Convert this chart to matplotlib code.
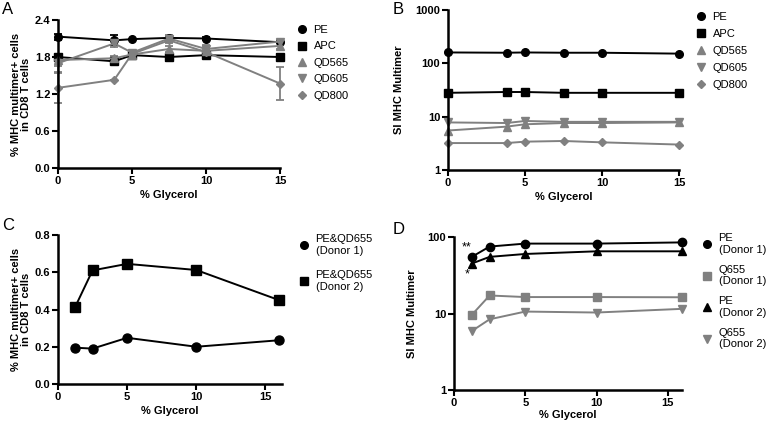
import matplotlib
matplotlib.use("Agg")
import matplotlib.pyplot as plt
from matplotlib.lines import Line2D
from matplotlib.ticker import FixedLocator, NullLocator, FixedFormatter

plt.rcParams['font.family'] = ['Liberation Sans', 'DejaVu Sans']

# ---- Data ----
# Panel A
a_x = [0, 3.8, 5, 7.5, 10, 15]
a_pe = [2.13, 2.07, 2.09, 2.11, 2.10, 2.04]
a_pe_err = [0.05, 0.08, 0.0, 0.03, 0.03, 0.0]
a_apc = [1.80, 1.73, 1.83, 1.80, 1.83, 1.80]
a_apc_err = [0.05, 0.04, 0.0, 0.07, 0.05, 0.05]
a_qd565 = [1.75, 1.78, 1.84, 1.93, 1.90, 1.98]
a_qd565_err = [0.1, 0.03, 0.03, 0.05, 0.1, 0.05]
a_qd605 = [1.70, 2.02, 1.87, 2.10, 1.93, 2.05]
a_qd605_err = [0.15, 0.05, 0.04, 0.05, 0.05, 0.03]
a_qd800 = [1.30, 1.43, 1.85, 2.07, 1.88, 1.37]
a_qd800_err = [0.24, 0.0, 0.03, 0.04, 0.05, 0.26]

# Panel B
b_x = [0, 3.8, 5, 7.5, 10, 15]
b_pe = [160, 158, 160, 158, 158, 152]
b_apc = [28, 29, 29, 28, 28, 28]
b_qd565 = [5.5, 6.5, 7.2, 7.6, 7.6, 7.8]
b_qd605 = [7.8, 7.6, 8.3, 8.0, 8.0, 8.0]
b_qd800 = [3.2, 3.2, 3.4, 3.5, 3.3, 3.0]

# Panel C
c_x = [1.25, 2.5, 5, 10, 16]
c_donor1 = [0.195, 0.19, 0.248, 0.20, 0.235]
c_donor2 = [0.415, 0.61, 0.645, 0.612, 0.45]

# Panel D
d_x = [1.25, 2.5, 5, 10, 16]
d_pe_d1 = [55, 75, 82, 82, 85]
d_q655_d1 = [9.6, 17.2, 16.4, 16.4, 16.3]
d_pe_d2 = [45, 55, 60, 65, 65]
d_q655_d2 = [5.9, 8.4, 10.6, 10.3, 11.5]

BLACK = '#000000'
GRAY = '#808080'
W, H = 774, 423

fig = plt.figure(figsize=(W / 100, H / 100), dpi=100)


def box(l, t, r, b):
    return [l / W, 1 - b / H, (r - l) / W, (b - t) / H]


def style(ax):
    for s in ['top', 'right']:
        ax.spines[s].set_visible(False)
    for s in ['left', 'bottom']:
        ax.spines[s].set_linewidth(1.8)
    ax.tick_params(axis='both', direction='out', length=4, width=1.5,
                   labelsize=8, pad=1.5)
    for lab in ax.get_xticklabels() + ax.get_yticklabels():
        lab.set_fontweight('bold')


def log_axis(ax, ticks):
    ax.set_yscale('log')
    ax.yaxis.set_major_locator(FixedLocator(ticks))
    ax.yaxis.set_minor_locator(NullLocator())
    ax.yaxis.set_major_formatter(FixedFormatter([str(t) for t in ticks]))


def add_legend(ax, entries, x, y, spacing):
    handles = [Line2D([], [], color=c, marker=m, linestyle='none', markersize=ms)
               for (_, c, m, ms) in entries]
    labels = [e[0] for e in entries]
    ax.legend(handles, labels, loc='upper left',
              bbox_to_anchor=(x / W, 1 - y / H), bbox_transform=fig.transFigure,
              frameon=False, fontsize=8, handlelength=0.8, handletextpad=0.6,
              labelspacing=spacing, borderaxespad=0, borderpad=0)


lw = 1.4
ms = 5.5
yl_pct = '% MHC multimer+ cells\nin CD8 T cells'

# ---- Panel A ----
axA = fig.add_axes(box(58, 20, 280, 168))
seriesA = [
    (a_pe, a_pe_err, BLACK, 'o', 'PE'),
    (a_apc, a_apc_err, BLACK, 's', 'APC'),
    (a_qd565, a_qd565_err, GRAY, '^', 'QD565'),
    (a_qd605, a_qd605_err, GRAY, 'v', 'QD605'),
    (a_qd800, a_qd800_err, GRAY, 'D', 'QD800'),
]
for y, e, c, m, lab in seriesA:
    axA.errorbar(a_x, y, yerr=e, color=c, marker=m, markersize=ms if m != 'D' else 4.5,
                 linewidth=lw, elinewidth=1.3, capsize=3, capthick=1.3, clip_on=False)
axA.set_xlim(0, 15)
axA.set_ylim(0, 2.4)
axA.set_xticks([0, 5, 10, 15])
axA.set_yticks([0.0, 0.6, 1.2, 1.8, 2.4])
axA.set_yticklabels(['0.0', '0.6', '1.2', '1.8', '2.4'])
axA.set_xlabel('% Glycerol', fontsize=8, fontweight='bold', labelpad=3)
axA.set_ylabel(yl_pct, fontsize=8, fontweight='bold', labelpad=3, linespacing=1.0)
style(axA)
add_legend(axA, [(s[4], s[2], s[3], 5.5 if s[3] != 'D' else 4.5) for s in seriesA],
           298, 25, 0.58)
fig.text(2 / W, 1 - 2 / H, 'A', fontsize=12, va='top', ha='left')

# ---- Panel B ----
axB = fig.add_axes(box(448, 10, 679, 170))
seriesB = [
    (b_pe, BLACK, 'o', 'PE'),
    (b_apc, BLACK, 's', 'APC'),
    (b_qd565, GRAY, '^', 'QD565'),
    (b_qd605, GRAY, 'v', 'QD605'),
    (b_qd800, GRAY, 'D', 'QD800'),
]
for y, c, m, lab in seriesB:
    axB.plot(b_x, y, color=c, marker=m, markersize=ms if m != 'D' else 4.5,
             linewidth=lw, clip_on=False)
axB.set_xlim(0, 15)
axB.set_ylim(1, 1000)
log_axis(axB, [1, 10, 100, 1000])
axB.set_xticks([0, 5, 10, 15])
axB.set_xlabel('% Glycerol', fontsize=8, fontweight='bold', labelpad=3)
axB.set_ylabel('SI MHC Multimer', fontsize=8, fontweight='bold', labelpad=8)
style(axB)
add_legend(axB, [(s[3], s[1], s[2], 5.5 if s[2] != 'D' else 4.5) for s in seriesB],
           697, 12, 0.62)
fig.text(393 / W, 1 - 2 / H, 'B', fontsize=12, va='top', ha='left')

# ---- Panel C ----
axC = fig.add_axes(box(58, 235, 282, 384))
axC.plot(c_x, c_donor1, color=BLACK, marker='o', markersize=6.5, linewidth=lw,
         clip_on=False)
axC.plot(c_x, c_donor2, color=BLACK, marker='s', markersize=6.5, linewidth=lw,
         clip_on=False)
axC.set_xlim(0, 16.2)
axC.set_ylim(0, 0.8)
axC.set_xticks([0, 5, 10, 15])
axC.set_yticks([0.0, 0.2, 0.4, 0.6, 0.8])
axC.set_yticklabels(['0.0', '0.2', '0.4', '0.6', '0.8'])
axC.set_xlabel('% Glycerol', fontsize=8, fontweight='bold', labelpad=3)
axC.set_ylabel(yl_pct, fontsize=8, fontweight='bold', labelpad=3, linespacing=1.0)
style(axC)
add_legend(axC, [('PE&QD655\n(Donor 1)', BLACK, 'o', 5.5),
                 ('PE&QD655\n(Donor 2)', BLACK, 's', 5.5)], 300, 234, 1.3)
fig.text(2 / W, 1 - 218 / H, 'C', fontsize=12, va='top', ha='left')

# ---- Panel D ----
axD = fig.add_axes(box(454, 237, 682, 390))
seriesD = [
    (d_pe_d1, BLACK, 'o', 'PE\n(Donor 1)'),
    (d_q655_d1, GRAY, 's', 'Q655\n(Donor 1)'),
    (d_pe_d2, BLACK, '^', 'PE\n(Donor 2)'),
    (d_q655_d2, GRAY, 'v', 'Q655\n(Donor 2)'),
]
for y, c, m, lab in seriesD:
    axD.plot(d_x, y, color=c, marker=m, markersize=6, linewidth=lw, clip_on=False)
axD.set_xlim(0, 16)
axD.set_ylim(1, 100)
log_axis(axD, [1, 10, 100])
axD.set_xticks([0, 5, 10, 15])
axD.set_xlabel('% Glycerol', fontsize=8, fontweight='bold', labelpad=2)
axD.set_ylabel('SI MHC Multimer', fontsize=8, fontweight='bold', labelpad=8)
style(axD)
axD.text(0.9, 74, '**', fontsize=9, ha='center', va='center')
axD.text(0.9, 32, '*', fontsize=9, ha='center', va='center')
add_legend(axD, [(s[3], s[1], s[2], 5.5) for s in seriesD], 703, 233, 0.9)
fig.text(393 / W, 1 - 222 / H, 'D', fontsize=12, va='top', ha='left')

fig.savefig('out.png', dpi=100)
